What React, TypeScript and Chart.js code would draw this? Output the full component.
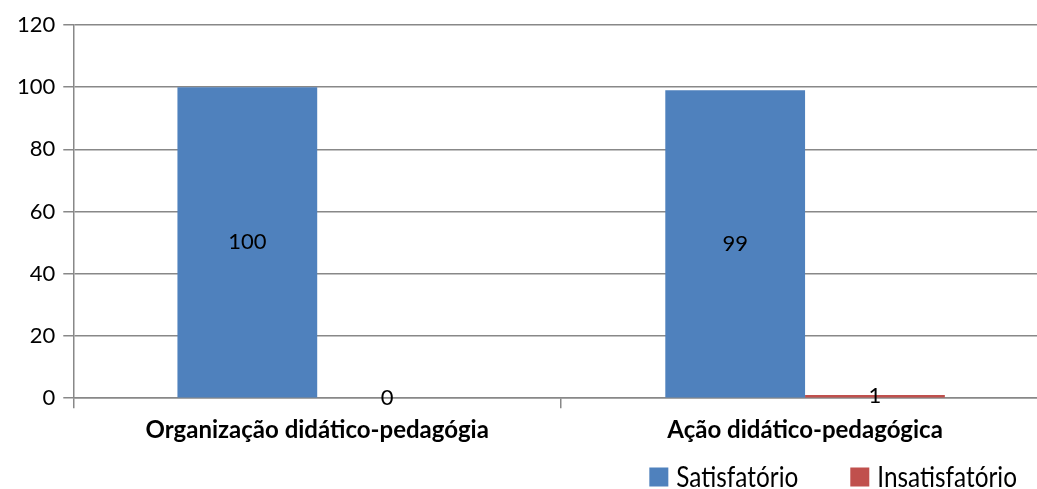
import React, { useEffect, useRef } from "react";
import { Chart, registerables } from "chart.js";

Chart.register(...registerables);

const categories = ["Organização didático-pedagógia", "Ação didático-pedagógica"];
const satisfatorio = [100, 99];
const insatisfatorio = [0, 1];
const yTicks = [0, 20, 40, 60, 80, 100, 120];

const BASE_FONT = "Lato, 'Open Sans', sans-serif";
const LEGEND_FONT = `29px ${BASE_FONT}`;
const LEGEND_SQUEEZE = 0.84;
// The plot runs a little past the visible right edge.
const HIDDEN_RIGHT = 12;

// Writes each bar's value at the middle of the bar.
const valueLabels = {
  id: "valueLabels",
  afterDatasetsDraw(chart: any) {
    const ctx = chart.ctx;
    ctx.save();
    ctx.fillStyle = "#000";
    ctx.font = `22px ${BASE_FONT}`;
    ctx.textAlign = "center";
    ctx.textBaseline = "middle";
    chart.data.datasets.forEach((ds: any, i: number) => {
      const meta = chart.getDatasetMeta(i);
      meta.data.forEach((el: any, j: number) => {
        const y = (el.y + el.base) / 2;
        ctx.fillText(String(ds.data[j]), el.x, y);
      });
    });
    ctx.restore();
  },
};

// Bottom-right legend with narrow lettering.
const narrowLegend = {
  id: "narrowLegend",
  afterDraw(chart: any) {
    const ctx = chart.ctx;
    const box = 19;
    const gapText = 8;
    const gapItem = 52;
    const cy = chart.height - 12;
    ctx.save();
    ctx.font = LEGEND_FONT;
    ctx.textBaseline = "middle";
    const items = chart.data.datasets.map((ds: any) => ({
      label: ds.label as string,
      color: ds.backgroundColor as string,
      w: ctx.measureText(ds.label).width * LEGEND_SQUEEZE,
    }));
    const total =
      items.reduce((s: number, it: any) => s + box + gapText + it.w, 0) +
      gapItem * (items.length - 1);
    let x = chart.width - HIDDEN_RIGHT - 20 - total;
    items.forEach((it: any) => {
      ctx.fillStyle = it.color;
      ctx.fillRect(x, cy - box / 2, box, box);
      x += box + gapText;
      ctx.save();
      ctx.translate(x, cy);
      ctx.scale(LEGEND_SQUEEZE, 1);
      ctx.fillStyle = "#000";
      ctx.fillText(it.label, 0, 1);
      ctx.restore();
      x += it.w + gapItem;
    });
    ctx.restore();
  },
};

export default function App() {
  const ref = useRef<HTMLCanvasElement | null>(null);

  useEffect(() => {
    document.body.style.margin = "0";
    const chart = new Chart(ref.current!, {
      type: "bar",
      data: {
        labels: categories,
        datasets: [
          {
            label: "Satisfatório",
            data: satisfatorio,
            backgroundColor: "#4F81BD",
            categoryPercentage: 0.573,
            barPercentage: 1,
          },
          {
            label: "Insatisfatório",
            data: insatisfatorio,
            backgroundColor: "#C0504D",
            categoryPercentage: 0.573,
            barPercentage: 1,
          },
        ],
      },
      options: {
        animation: false,
        responsive: true,
        maintainAspectRatio: false,
        layout: { padding: { top: 25, right: 0, left: 9, bottom: 36 } },
        plugins: {
          tooltip: { enabled: false },
          legend: { display: false },
        },
        scales: {
          x: {
            grid: {
              display: true,
              drawOnChartArea: false,
              drawTicks: true,
              tickLength: 10,
              color: "#888",
              lineWidth: 1.5,
              offset: true,
            },
            border: { display: true, color: "#888", width: 1.5 },
            ticks: {
              color: "#000",
              padding: 8,
              maxRotation: 0,
              font: { family: BASE_FONT, size: 24, weight: "bold" },
            },
          },
          y: {
            min: 0,
            max: 120,
            afterBuildTicks: (scale: any) => {
              scale.ticks = yTicks.map((v) => ({ value: v }));
            },
            grid: {
              color: "#888",
              lineWidth: 1.5,
              tickLength: 10,
            },
            border: { display: true, color: "#888", width: 1.5 },
            ticks: {
              color: "#000",
              padding: 8,
              font: { family: BASE_FONT, size: 22 },
            },
          },
        },
      },
      plugins: [valueLabels, narrowLegend],
    });
    return () => chart.destroy();
  }, []);

  return (
    <div style={{ position: "fixed", left: 0, top: 0, width: 1037, height: 489, overflow: "hidden" }}>
      <div style={{ position: "relative", width: 1037 + HIDDEN_RIGHT, height: 489 }}>
        <canvas ref={ref} />
      </div>
    </div>
  );
}
